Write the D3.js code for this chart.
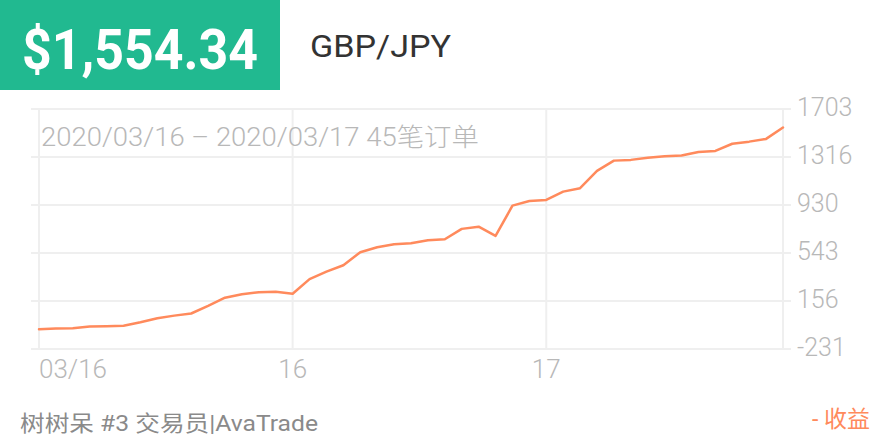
<!DOCTYPE html>
<html>
<head>
<meta charset="utf-8">
<script src="https://cdn.jsdelivr.net/npm/d3@7/dist/d3.min.js"></script>
<style>
  html, body { margin: 0; padding: 0; background: #fff; }
  svg { display: block; }
</style>
</head>
<body>
<svg id="chart" width="880" height="440"></svg>
<script>
// ---- data ----
const balance = "$1,554.34";
const symbol = "GBP/JPY";
const subtitle = "2020/03/16 – 2020/03/17 45笔订单";
const footerText = "树树呆 #3 交易员|AvaTrade";
const legendText = "- 收益";
const profit = [-72, -66, -63, -50, -47, -44, -16, 17, 38, 55,
                116, 182, 210, 227, 230, 214, 332, 392, 444, 549,
                589, 613, 621, 646, 653, 737, 755, 680, 924, 962,
                970, 1037, 1065, 1204, 1287, 1293, 1311, 1322, 1328, 1357,
                1365, 1423, 1440, 1462, 1554.34];
const yTicks = [-231, 156, 543, 930, 1316, 1703];
const yTickLabels = ["-231", "156", "543", "930", "1316", "1703"];
const xTickIndex = [0, 15, 30, 44];
const xTickLabels = ["03/16", "16", "17", ""];

// ---- drawing ----
const svg = d3.select("#chart");
const green = "#21B990", orange = "#FF8A5C", grid = "#EFEFEF", gray = "#B8B8B8";
const latin = "Roboto, 'Noto Sans CJK SC', sans-serif";

const x = d3.scaleLinear().domain([0, profit.length - 1]).range([39, 783]);
const y = d3.scaleLinear().domain([-231, 1703]).range([349, 109]);

// header
svg.append("rect").attr("x", 0).attr("y", 0).attr("width", 280).attr("height", 90).attr("fill", green);
svg.append("text").attr("x", 22).attr("y", 69)
  .attr("font-family", "Roboto, sans-serif").attr("font-weight", 700)
  .attr("font-size", 55).attr("fill", "#fff")
  .attr("textLength", 236).attr("lengthAdjust", "spacingAndGlyphs")
  .text(balance);
svg.append("text").attr("x", 310).attr("y", 57)
  .attr("font-family", "Roboto, 'Liberation Sans', sans-serif")
  .attr("font-size", 32).attr("fill", "#333")
  .attr("textLength", 141).attr("lengthAdjust", "spacingAndGlyphs")
  .text(symbol);

// clip for chart area (top label cut)
svg.append("clipPath").attr("id", "chartClip")
  .append("rect").attr("x", 0).attr("y", 97).attr("width", 880).attr("height", 343);

const g = svg.append("g").attr("clip-path", "url(#chartClip)");

// horizontal grid
g.append("g").selectAll("line").data(yTicks).join("line")
  .attr("x1", 31).attr("x2", 791)
  .attr("y1", d => y(d)).attr("y2", d => y(d))
  .attr("stroke", grid).attr("stroke-width", 2);

// vertical grid
g.append("g").selectAll("line").data(xTickIndex).join("line")
  .attr("x1", d => x(d)).attr("x2", d => x(d))
  .attr("y1", 108).attr("y2", 349)
  .attr("stroke", grid).attr("stroke-width", 2);

// y labels
g.append("g").selectAll("text").data(yTicks).join("text")
  .attr("x", 797).attr("y", d => y(d) + 7)
  .attr("font-family", latin).attr("font-weight", 300)
  .attr("font-size", 25).attr("fill", gray)
  .text((d, i) => yTickLabels[i]);

// x labels
g.append("g").selectAll("text").data(xTickIndex).join("text")
  .attr("x", d => x(d)).attr("y", 378)
  .attr("text-anchor", (d, i) => i === 0 ? "start" : "middle")
  .attr("font-family", latin).attr("font-weight", 300)
  .attr("font-size", 26).attr("fill", gray)
  .text((d, i) => xTickLabels[i]);

// subtitle
g.append("text").attr("x", 41).attr("y", 146)
  .attr("font-family", latin).attr("font-weight", 300)
  .attr("font-size", 25).attr("fill", gray)
  .attr("textLength", 438).attr("lengthAdjust", "spacingAndGlyphs")
  .text(subtitle);

// line
const line = d3.line().x((d, i) => x(i)).y(d => y(d));
g.append("path").datum(profit)
  .attr("d", line)
  .attr("fill", "none").attr("stroke", orange)
  .attr("stroke-width", 2.5).attr("stroke-linejoin", "round").attr("stroke-linecap", "round");

// footer
svg.append("text").attr("x", 20).attr("y", 431)
  .attr("font-family", latin).attr("font-size", 22).attr("fill", "#8A8A8A")
  .attr("textLength", 298).attr("lengthAdjust", "spacingAndGlyphs")
  .text(footerText);
svg.append("text").attr("x", 870).attr("y", 427).attr("text-anchor", "end")
  .attr("font-family", latin).attr("font-size", 23).attr("fill", orange)
  .text(legendText);
</script>
</body>
</html>
